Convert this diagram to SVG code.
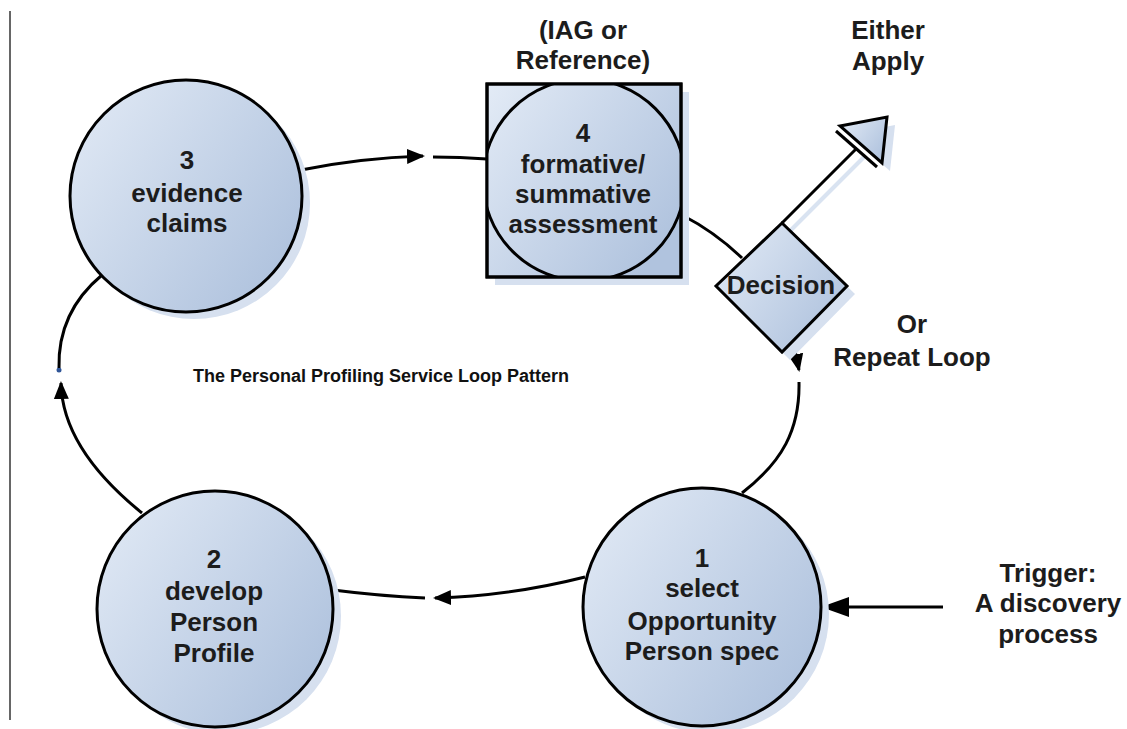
<svg xmlns="http://www.w3.org/2000/svg" width="1127" height="729" viewBox="0 0 1127 729">
  <defs>
    <linearGradient id="fillBlue" x1="0" y1="0" x2="1" y2="0.7">
      <stop offset="0" stop-color="#e3ebf6"/>
      <stop offset="1" stop-color="#b0c3de"/>
    </linearGradient>
    <clipPath id="clipSquare">
      <rect x="487" y="84" width="194" height="193"/>
    </clipPath>
    <marker id="arrow" viewBox="0 0 18 16" refX="16" refY="8" markerWidth="18" markerHeight="16" orient="auto" markerUnits="userSpaceOnUse">
      <path d="M0,0.5 L18,8 L0,15.5 Z" fill="#000"/>
    </marker>
    <marker id="arrowBig" viewBox="0 0 28 22" refX="26" refY="11" markerWidth="28" markerHeight="22" orient="auto" markerUnits="userSpaceOnUse">
      <path d="M0,1 L28,11 L0,21 Z" fill="#000"/>
    </marker>
  </defs>
  <style>
    .shape { fill: url(#fillBlue); stroke: #000; stroke-width: 3; }
    .shadow { fill: #d6e0ef; stroke: none; }
    .conn { fill: none; stroke: #000; stroke-width: 3; }
    .label { font-family: "Liberation Sans", Arial, sans-serif; font-weight: bold; font-size: 26px; fill: #1c1c1c; text-anchor: middle; }
    .title { font-family: "Liberation Sans", Arial, sans-serif; font-weight: bold; font-size: 18px; fill: #111; }
  </style>

  <!-- page margin rule -->
  <line x1="10" y1="11" x2="10" y2="720" stroke="#333" stroke-width="1.5"/>

  <!-- connectors -->
  <g id="connectors">
    <!-- 3 -> 4 -->
    <path class="conn" d="M301,170 Q360,158 423,156" marker-end="url(#arrow)"/>
    <path class="conn" d="M433,157 Q460,157 487,159"/>
    <!-- 4 -> decision -->
    <path class="conn" d="M682,215 Q715,232 742,258"/>
    <!-- decision -> apply -->
    <line x1="790" y1="231" x2="865" y2="156" stroke="#d9e3f1" stroke-width="4"/>
    <line x1="782" y1="223" x2="857" y2="148" stroke="#000" stroke-width="3"/>
    <!-- decision -> repeat loop -->
    <path class="conn" d="M793,341 L799,370" marker-end="url(#arrow)"/>
    <path class="conn" d="M799,382 C800,430 782,462 742,493"/>
    <!-- trigger -> 1 -->
    <path class="conn" d="M943,607 L823,607" marker-end="url(#arrowBig)"/>
    <!-- 1 -> 2 -->
    <path class="conn" d="M585,577 Q510,596 435,598" marker-end="url(#arrow)"/>
    <path class="conn" d="M425,598 Q380,596 333,590"/>
    <!-- 2 -> 3 -->
    <path class="conn" d="M142,513 C95,475 62,432 61,383" marker-end="url(#arrow)"/>
    <circle cx="59" cy="370" r="2.5" fill="#2f5597"/>
    <path class="conn" d="M59,368 C58,330 72,300 102,275"/>
  </g>

  <!-- apply arrowhead -->
  <g id="apply-head">
    <polygon class="shadow" points="848,134 895,125 890,171"/>
    <polygon class="shape" points="840,126 887,117 882,163" stroke-linejoin="miter"/>
    <line x1="836" y1="131" x2="877" y2="167" stroke="#000" stroke-width="3"/>
  </g>

  <!-- node 3 -->
  <g id="node3">
    <circle class="shadow" cx="194" cy="203" r="116"/>
    <circle class="shape" cx="186" cy="196" r="116"/>
    <text class="label" x="187" y="169">3</text>
    <text class="label" x="187" y="202">evidence</text>
    <text class="label" x="187" y="232">claims</text>
  </g>

  <!-- node 4 -->
  <g id="node4">
    <text class="label" x="583" y="39">(IAG or</text>
    <text class="label" x="583" y="69">Reference)</text>
    <rect class="shadow" x="495" y="92" width="194" height="193"/>
    <rect class="shape" x="487" y="84" width="194" height="193"/>
    <circle class="shape" cx="584" cy="180" r="101" clip-path="url(#clipSquare)"/>
    <rect x="487" y="84" width="194" height="193" fill="none" stroke="#000" stroke-width="3"/>
    <text class="label" x="583" y="142">4</text>
    <text class="label" x="583" y="173">formative/</text>
    <text class="label" x="583" y="203">summative</text>
    <text class="label" x="583" y="233">assessment</text>
  </g>

  <!-- decision -->
  <g id="decision">
    <polygon class="shadow" points="790,231 855,294 790,360 724,294"/>
    <polygon class="shape" points="782,223 847,286 782,352 716,286"/>
    <text class="label" x="781" y="294">Decision</text>
  </g>

  <!-- node 2 -->
  <g id="node2">
    <circle class="shadow" cx="223" cy="616" r="118"/>
    <circle class="shape" cx="215" cy="609" r="118"/>
    <text class="label" x="214" y="568">2</text>
    <text class="label" x="214" y="600">develop</text>
    <text class="label" x="214" y="631">Person</text>
    <text class="label" x="214" y="662">Profile</text>
  </g>

  <!-- node 1 -->
  <g id="node1">
    <circle class="shadow" cx="710" cy="614" r="119"/>
    <circle class="shape" cx="702" cy="607" r="119"/>
    <text class="label" x="702" y="567">1</text>
    <text class="label" x="702" y="597">select</text>
    <text class="label" x="702" y="630">Opportunity</text>
    <text class="label" x="702" y="660">Person spec</text>
  </g>

  <!-- free labels -->
  <g id="labels">
    <text class="label" x="888" y="39">Either</text>
    <text class="label" x="888" y="70">Apply</text>
    <text class="label" x="912" y="333">Or</text>
    <text class="label" x="912" y="366">Repeat Loop</text>
    <text class="label" x="1048" y="582">Trigger:</text>
    <text class="label" x="1048" y="612">A discovery</text>
    <text class="label" x="1048" y="643">process</text>
    <text class="title" x="193" y="382">The Personal Profiling Service Loop Pattern</text>
  </g>
</svg>
